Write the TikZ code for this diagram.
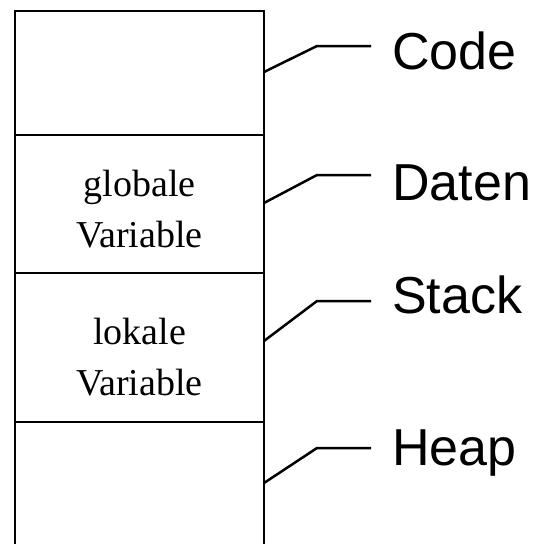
\documentclass[tikz,border=0pt]{standalone}
\usepackage{fontspec}
\setmainfont{Liberation Serif}
\newfontfamily\labelfont{Liberation Sans}
\usetikzlibrary{positioning}

\tikzset{
  seg/.style={draw, line width=2.8pt, minimum width=249pt, outer sep=0pt, inner sep=0pt},
  vartext/.style={align=center, inner sep=0pt, font=\fontsize{38}{51}\selectfont},
  part/.style={font=\labelfont\fontsize{52}{60}\selectfont, anchor=base west,
    inner xsep=21pt, inner ysep=0pt},
  lead/.style={line width=2.5pt}
}

\begin{document}
\begin{tikzpicture}[x=1pt, y=1pt]
  \useasboundingbox (0,0) rectangle (536,-544);
  % memory layout, top to bottom (heap runs off the page)
  \node[seg, minimum height=124pt] (code) at (139.5,-73) {};
  \node[seg, minimum height=138pt, below=0pt of code] (daten) {};
  \node[seg, minimum height=149pt, below=0pt of daten] (stack) {};
  \node[seg, minimum height=160pt, below=0pt of stack] (heap) {};
  \node[vartext] (glob) at ([yshift=-5pt]daten.center) {globale\\Variable};
  \node[vartext] (lok)  at ([yshift=-10pt]stack.center) {lokale\\Variable};

  % segment names
  \node[part] (lcode)  at (371,-69)  {Code};
  \node[part] (ldaten) at (371,-200) {Daten};
  \node[part] (lstack) at (371,-313) {Stack};
  \node[part] (lheap)  at (371,-465) {Heap};

  % leader lines
  \draw[lead] ([yshift=-61pt]code.north east)  -- ++(53,26) coordinate (kc) -- (lcode.west |- kc);
  \draw[lead] ([yshift=-68pt]daten.north east) -- ++(53,28) coordinate (kd) -- (ldaten.west |- kd);
  \draw[lead] ([yshift=-68pt]stack.north east) -- ++(53,40) coordinate (ks) -- (lstack.west |- ks);
  \draw[lead] ([yshift=-61pt]heap.north east)  -- ++(53,35) coordinate (kh) -- (lheap.west |- kh);
\end{tikzpicture}
\end{document}
